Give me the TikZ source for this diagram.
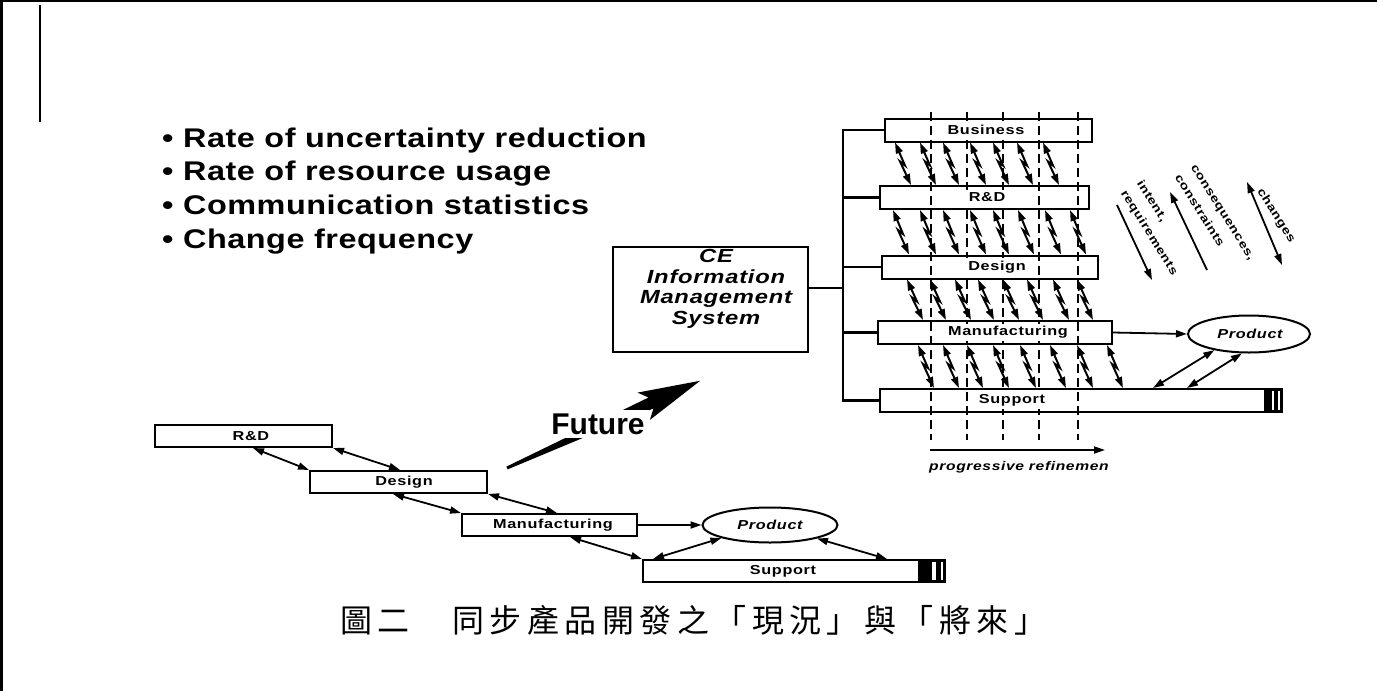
\documentclass[tikz,border=0pt]{standalone}
\usepackage{fontspec}
\setmainfont{Liberation Sans}
\newfontfamily\bulfont[FakeStretch=1.2,LetterSpace=2]{Liberation Sans}
\newfontfamily\labfont[FakeStretch=1.25,LetterSpace=5]{Liberation Sans}
\newfontfamily\cefont[FakeStretch=1.25,LetterSpace=4]{Liberation Sans}
\newfontfamily\rotfont[FakeStretch=1.25,LetterSpace=5]{Liberation Sans}
\newfontfamily\capfont[LetterSpace=17]{Noto Sans CJK TC}
\usetikzlibrary{arrows.meta,shapes.geometric,calc}
\begin{document}
\begin{tikzpicture}[x=1pt,y=-1pt,
  box/.style={draw,line width=2pt,minimum height=23pt,inner sep=0pt},
  bbox/.style={draw,line width=2pt,minimum height=22pt,inner sep=0pt},
  prodbox/.style={draw,ellipse,line width=2pt,inner sep=0pt},
  lab/.style={font=\labfont\bfseries\fontsize{13}{15}\selectfont,inner sep=2.5pt,fill=white},
  plab/.style={font=\labfont\bfseries\itshape\fontsize{13}{15}\selectfont,inner sep=0pt},
  bul/.style={font=\bulfont\bfseries\fontsize{27}{30}\selectfont,inner sep=0pt,anchor=base west},
  rot/.style={font=\rotfont\bfseries\fontsize{11.5}{19}\selectfont,inner sep=0pt,rotate=-58,align=left},
  dbl/.style={line width=1.8pt,{Triangle[length=11pt,width=7pt]}-{Triangle[length=11pt,width=7pt]}},
  sgl/.style={line width=1.8pt,-{Triangle[length=11pt,width=7pt]}},
  bolt/.style={line width=2pt,line join=miter,{Triangle[length=11pt,width=7pt]}-{Triangle[length=11pt,width=7pt]}},
  dsh/.style={line width=1.6pt,dash pattern=on 9pt off 5pt},
  bus/.style={line width=2.6pt}
]
\useasboundingbox (0,0) rectangle (1377,691);
\fill[white] (0,0) rectangle (1377,691);
% frame of the scan
\fill[black] (0,0) rectangle (1377,1.5);
\fill[black] (0,0) rectangle (3,691);
\draw[line width=1.2pt] (40,5) -- (40,122);

% bullet list
\node[bul] (b1) at (162,147.5) {• Rate of uncertainty reduction};
\node[bul] (b2) at (162,180.5) {• Rate of resource usage};
\node[bul] (b3) at (162,214) {• Communication statistics};
\node[bul] (b4) at (162,248) {• Change frequency};

% CE box
\node[draw,line width=2pt,minimum width=195pt,minimum height=105pt,inner sep=0pt] (ce) at (710.5,299.5) {};
\node[font=\cefont\bfseries\itshape\fontsize{19}{20.5}\selectfont,align=center,inner sep=0pt] (cet) at (716,289) {CE\\Information\\Management\\System};
\coordinate (bus) at (843,0);
\coordinate (cel) at (0,288);

% top-right stack
\node[box,minimum width=207pt] (biz) at (988.5,130) {};
\node[box,minimum width=209pt] (rd) at (984.5,197.5) {};
\node[box,minimum width=216pt] (des) at (990,267) {};
\node[box,minimum width=234pt] (mfg) at (995,332.5) {};
\node[box,minimum width=402pt] (sup) at (1081,400.5) {};

% dashed refinement lines
\foreach \x in {931,967,1003,1039,1078}{
  \draw[dsh] (\x,112) -- (\x,440);
}

\node[lab] (bizt) at (986,130) {Business};
\node[lab] (rdt) at (987,197.5) {R\&D};
\node[lab] (dest) at (997,267) {Design};
\node[lab] (mfgt) at (1008,332.5) {Manufacturing};
\node[lab] (supt) at (1012,400.5) {Support};

% end cap of support
\fill ($(sup.north east)+(-19,0)$) rectangle (sup.south east);
\fill[white] ($(sup.north east)+(-11,3)$) rectangle ($(sup.south east)+(-9,-3)$);
\fill[white] ($(sup.north east)+(-5,3)$) rectangle ($(sup.south east)+(-3,-3)$);

% bus
\draw[bus] (ce.east |- cel) -- (bus |- cel);
\draw[bus] (biz.west) -- (biz.west -| bus) -- (sup.west -| bus) -- (sup.west);
\draw[bus] (rd.west) -- (rd.west -| bus);
\draw[bus] (des.west) -- (des.west -| bus);
\draw[bus] (mfg.west) -- (mfg.west -| bus);

% lightning arrows
\foreach \x in {895,920,943,970,993,1017,1043}{
  \draw[bolt] (\x,0 |- biz.south) -- ++(10,23) -- ++(-5,-4) -- (\x+16,0 |- rd.north);
}
\foreach \x in {893,920,943,970,993,1018,1045,1070}{
  \draw[bolt] (\x,0 |- rd.south) -- ++(10,24) -- ++(-5,-4) -- (\x+16,0 |- des.north);
}
\foreach \x in {907,930,955,978,1003,1027,1053,1077}{
  \draw[bolt] (\x,0 |- des.south) -- ++(10,22) -- ++(-5,-4) -- (\x+16,0 |- mfg.north);
}
\foreach \x in {918,943,967,993,1020,1050,1077,1107}{
  \draw[bolt] (\x,0 |- mfg.south) -- ++(10,23) -- ++(-5,-4) -- (\x+16,0 |- sup.north);
}

% product (top)
\node[prodbox,minimum width=122pt,minimum height=37pt] (prod) at (1249,334) {};
\node[plab] (prodt) at (1250,334) {Product};
\draw[sgl] (mfg.east) -- (prod.west);
\draw[dbl] (1153,0 |- sup.north) -- (prod.205);
\draw[dbl] (1187,0 |- sup.north) -- (prod.250);

% progressive refinement
\coordinate (pr1) at (930,450);
\coordinate (pr2) at (1105,450);
\draw[sgl] (pr1) -- (pr2);
\node[font=\labfont\bfseries\itshape\fontsize{12.5}{14}\selectfont,inner sep=0pt,anchor=west] (prt) at (929,467) {progressive refinemen};

% rotated labels
\coordinate (a1s) at (1117,205); \coordinate (a1e) at (1152,280);
\coordinate (a2s) at (1207,270); \coordinate (a2e) at (1170,192);
\coordinate (a3s) at (1247,182); \coordinate (a3e) at (1282,265);
\draw[sgl] (a1s) -- (a1e);
\draw[sgl] (a2s) -- (a2e);
\draw[dbl] (a3s) -- (a3e);
\node[rot] (r1) at (1157,228) {intent,\\requirements};
\node[rot] (r2) at (1214.5,217.5) {consequences,\\constraints};
\node[rot] (r3) at (1276,216) {changes};

% Future arrow
\begin{scope}[shift={(507,468)},rotate=24.3]
  \fill (0,-1.5) -- (158,-6) -- (150,-15) -- (212,0) -- (150,15) -- (158,6) -- (0,1.5) -- cycle;
\end{scope}
\node[font=\bfseries\fontsize{30}{32}\selectfont,inner sep=4pt,fill=white] (fut) at (598,424) {Future};

% bottom-left waterfall
\node[bbox,minimum width=177pt] (brd) at (243.5,436) {};
\node[bbox,minimum width=177pt] (bdes) at (398.5,482) {};
\node[bbox,minimum width=175pt] (bmfg) at (549.5,525) {};
\node[bbox,minimum width=302pt] (bsup) at (794,571) {};
\node[lab] (brdt) at (251,436) {R\&D};
\node[lab] (bdest) at (404,482) {Design};
\node[lab] (bmfgt) at (553,525) {Manufacturing};
\node[lab] (bsupt) at (783,571) {Support};
\fill ($(bsup.north east)+(-28,0)$) rectangle (bsup.south east);
\fill[white] ($(bsup.north east)+(-14,3)$) rectangle ($(bsup.south east)+(-10,-3)$);
\fill[white] ($(bsup.north east)+(-5,3)$) rectangle ($(bsup.south east)+(-3,-3)$);

\node[prodbox,minimum width=135pt,minimum height=35pt] (bprod) at (770,525) {};
\node[plab] (bprodt) at (770,525) {Product};

\draw[dbl] (253,0 |- brd.south) -- (bdes.north west);
\draw[dbl] (brd.south east) -- (400,0 |- bdes.north);
\draw[dbl] (393,0 |- bdes.south) -- (bmfg.north west);
\draw[dbl] (bdes.south east) -- (557,0 |- bmfg.north);
\draw[sgl] (bmfg.east) -- (bprod.west);
\draw[dbl] (570,0 |- bmfg.south) -- (bsup.north west);
\draw[dbl] (653,0 |- bsup.north) -- (bprod.195);
\draw[dbl] (bprod.344) -- (887,0 |- bsup.north);

% caption
\node[font=\capfont\fontsize{32}{36}\selectfont,inner sep=0pt,anchor=west] (cap) at (340,620) {圖二　同步產品開發之「現況」與「將來」};
\end{tikzpicture}
\end{document}
